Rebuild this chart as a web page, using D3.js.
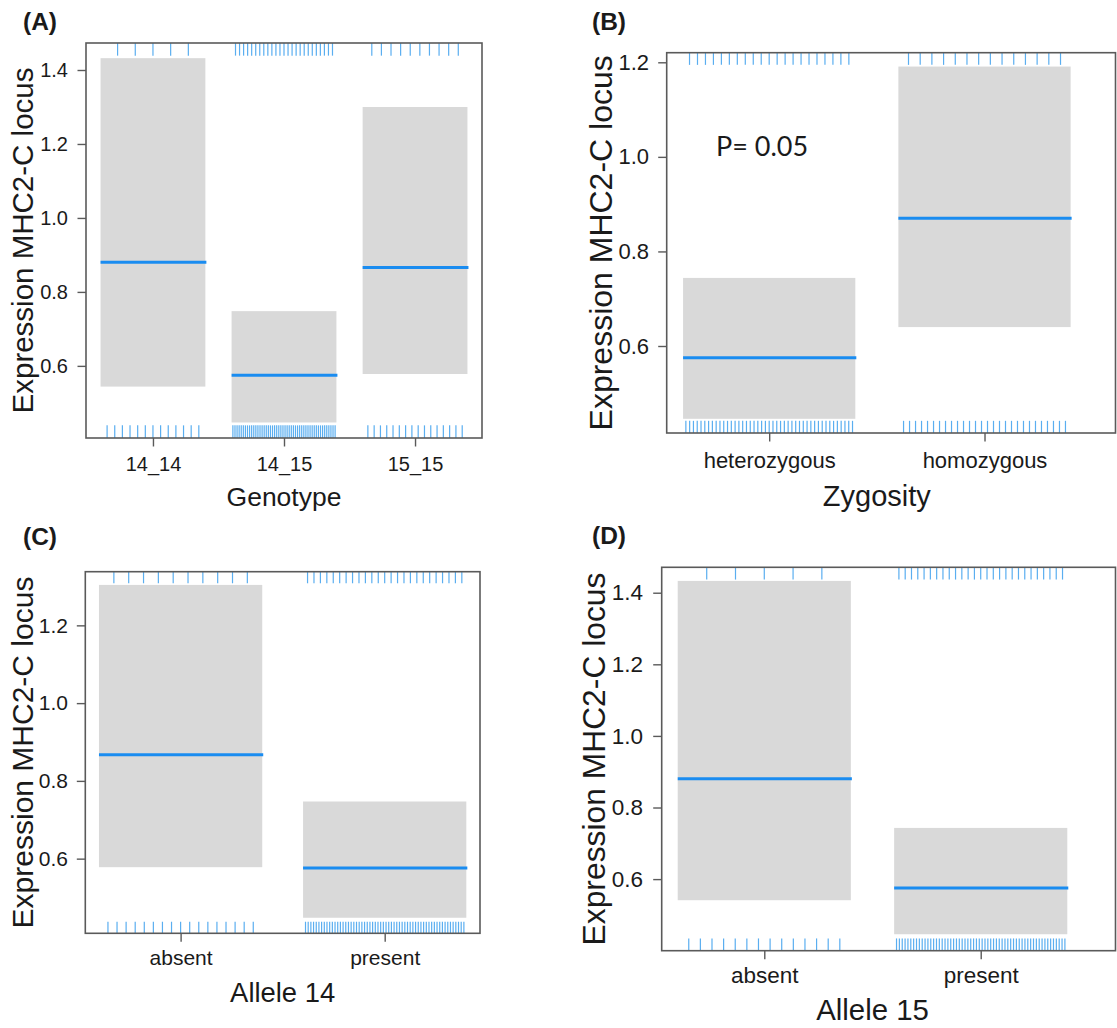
<!DOCTYPE html>
<html>
<head>
<meta charset="utf-8">
<script src="https://cdn.jsdelivr.net/npm/d3@7"></script>
<style>
  body { margin: 0; background: #fff; }
  svg text { font-family: "Liberation Sans", Arial, sans-serif; fill: #1a1a1a; }
</style>
</head>
<body>
<svg id="chart" width="1117" height="1028"></svg>
<script>
// effect estimates: fit, lower and upper bound of the band
var genotypeCats = ["14_14", "14_15", "15_15"];
var genotypeFit = [0.880, 0.575, 0.866];
var genotypeLower = [0.544, 0.447, 0.578];
var genotypeUpper = [1.432, 0.748, 1.300];
var genotypeTicks = [0.6, 0.8, 1.0, 1.2, 1.4];
var genotypeRugTop = [5, 25, 10];
var genotypeRugBottom = [13, 50, 16];

var zygosityCats = ["heterozygous", "homozygous"];
var zygosityFit = [0.575, 0.870];
var zygosityLower = [0.446, 0.640];
var zygosityUpper = [0.744, 1.191];
var zygosityTicks = [0.6, 0.8, 1.0, 1.2];
var zygosityRugTop = [21, 14];
var zygosityRugBottom = [45, 28];

var allele14Cats = ["absent", "present"];
var allele14Fit = [0.867, 0.576];
var allele14Lower = [0.578, 0.448];
var allele14Upper = [1.304, 0.747];
var allele14Ticks = [0.6, 0.8, 1.0, 1.2];
var allele14RugTop = [10, 25];
var allele14RugBottom = [17, 60];

var allele15Cats = ["absent", "present"];
var allele15Fit = [0.880, 0.575];
var allele15Lower = [0.541, 0.446];
var allele15Upper = [1.433, 0.743];
var allele15Ticks = [0.6, 0.8, 1.0, 1.2, 1.4];
var allele15RugTop = [5, 27];
var allele15RugBottom = [14, 60];

var yLabel = "Expression MHC2-C locus";

// how wide each rug group spreads, as a share of the category step
var genotypeRugTopSpread = [0.27, 0.37, 0.33];
var genotypeRugBottomSpread = [0.35, 0.39, 0.36];
var zygosityRugTopSpread = [0.37, 0.353];
var zygosityRugBottomSpread = [0.387, 0.376];
var allele14RugTopSpread = [0.327, 0.378];
var allele14RugBottomSpread = [0.356, 0.388];
var allele15RugTopSpread = [0.266, 0.378];
var allele15RugBottomSpread = [0.349, 0.389];

var panels = [
    {tag: "(A)", tagX: 23, tagY: 30, xTitle: "Genotype",
     cats: genotypeCats, fit: genotypeFit, lower: genotypeLower, upper: genotypeUpper,
     ticks: genotypeTicks, rugTop: genotypeRugTop, rugBottom: genotypeRugBottom,
     rugTopSpread: genotypeRugTopSpread, rugBottomSpread: genotypeRugBottomSpread,
     x0: 86, x1: 482, frameRight: 482, pad: 0.511, y0: 43, y1: 438, dom: [0.405, 1.473],
     tickFont: 20, xFont: 26.5, yFont: 29.5, yTitleX: 33, xLabY: 33, xTitleY: 506, yLabRight: 68},
    {tag: "(B)", tagX: 592, tagY: 30, xTitle: "Zygosity",
     cats: zygosityCats, fit: zygosityFit, lower: zygosityLower, upper: zygosityUpper,
     ticks: zygosityTicks, rugTop: zygosityRugTop, rugBottom: zygosityRugBottom,
     rugTopSpread: zygosityRugTopSpread, rugBottomSpread: zygosityRugBottomSpread,
     x0: 666.7, x1: 1087, frameRight: 1115.5, pad: 0.476, y0: 52.7, y1: 433, dom: [0.416, 1.2203],
     tickFont: 22, xFont: 29, yFont: 32, yTitleX: 612, xLabY: 35, xTitleY: 506, yLabRight: 649,
     note: "P= 0.05", noteX: 716, noteY: 156},
    {tag: "(C)", tagX: 23, tagY: 545, xTitle: "Allele 14",
     cats: allele14Cats, fit: allele14Fit, lower: allele14Lower, upper: allele14Upper,
     ticks: allele14Ticks, rugTop: allele14RugTop, rugBottom: allele14RugBottom,
     rugTopSpread: allele14RugTopSpread, rugBottomSpread: allele14RugBottomSpread,
     x0: 85.3, x1: 480, frameRight: 480, pad: 0.467, y0: 571.7, y1: 933.3, dom: [0.408, 1.338],
     tickFont: 21, xFont: 27.4, yFont: 30, yTitleX: 33, xLabY: 32, xTitleY: 1001.7, yLabRight: 68},
    {tag: "(D)", tagX: 592, tagY: 544, xTitle: "Allele 15",
     cats: allele15Cats, fit: allele15Fit, lower: allele15Lower, upper: allele15Upper,
     ticks: allele15Ticks, rugTop: allele15RugTop, rugBottom: allele15RugBottom,
     rugTopSpread: allele15RugTopSpread, rugBottomSpread: allele15RugBottomSpread,
     x0: 661.7, x1: 1083.3, frameRight: 1115.5, pad: 0.474, y0: 567.3, y1: 950.7, dom: [0.40, 1.471],
     tickFont: 22.5, xFont: 29.4, yFont: 31.8, yTitleX: 605, xLabY: 32.6, xTitleY: 1020, yLabRight: 643}
];

var svg = d3.select("#chart");
svg.append("rect").attr("width", 1117).attr("height", 1028).attr("fill", "#fff");

var BAND = "#d9d9d9", FIT = "#1a8cf0", RUG = "#5aaef0", FRAME = "#5a5a5a";

panels.forEach(function (p) {
    var g = svg.append("g");
    var x = d3.scalePoint().domain(p.cats).range([p.x0, p.x1]).padding(p.pad);
    var y = d3.scaleLinear().domain(p.dom).range([p.y1, p.y0]);
    var step = x.step();
    var halfW = 0.4 * step;
    var rugLen = 0.032 * (p.y1 - p.y0);

    // confidence bands
    g.selectAll(".band").data(p.cats).enter().append("rect")
        .attr("x", function (d) { return x(d) - halfW; })
        .attr("width", 2 * halfW)
        .attr("y", function (d, i) { return y(p.upper[i]); })
        .attr("height", function (d, i) { return y(p.lower[i]) - y(p.upper[i]); })
        .attr("fill", BAND);

    // fitted values
    g.selectAll(".fit").data(p.cats).enter().append("line")
        .attr("x1", function (d) { return x(d) - halfW; })
        .attr("x2", function (d) { return x(d) + halfW + 1; })
        .attr("y1", function (d, i) { return y(p.fit[i]); })
        .attr("y2", function (d, i) { return y(p.fit[i]); })
        .attr("stroke", FIT).attr("stroke-width", 3);

    // rugs, evenly spread inside each group
    function rug(counts, spreads, top) {
        p.cats.forEach(function (c, i) {
            var n = counts[i], s = spreads[i] * step;
            var xs = d3.range(n).map(function (k) { return x(c) - s + (n > 1 ? 2 * s * k / (n - 1) : s); });
            g.selectAll(null).data(xs).enter().append("line")
                .attr("x1", function (d) { return d; })
                .attr("x2", function (d) { return d; })
                .attr("y1", top ? p.y0 : p.y1 - rugLen)
                .attr("y2", top ? p.y0 + rugLen : p.y1)
                .attr("stroke", RUG).attr("stroke-width", 1.2);
        });
    }
    rug(p.rugTop, p.rugTopSpread, true);
    rug(p.rugBottom, p.rugBottomSpread, false);

    // frame
    g.append("rect")
        .attr("x", p.x0).attr("y", p.y0)
        .attr("width", p.frameRight - p.x0).attr("height", p.y1 - p.y0)
        .attr("fill", "none").attr("stroke", FRAME).attr("stroke-width", 1.6);

    // y axis
    var tickLen = 8.5;
    var ya = g.append("g").attr("transform", "translate(" + p.x0 + ",0)")
        .call(d3.axisLeft(y).tickValues(p.ticks).tickFormat(d3.format(".1f"))
            .tickSize(tickLen).tickSizeOuter(0).tickPadding(p.x0 - tickLen - p.yLabRight));
    ya.select(".domain").remove();
    ya.selectAll(".tick line").attr("stroke", FRAME).attr("stroke-width", 1.4);
    ya.selectAll(".tick text").attr("font-size", p.tickFont).attr("fill", "#1a1a1a")
        .attr("font-family", "Liberation Sans, Arial, sans-serif");

    // x axis
    var xa = g.append("g").attr("transform", "translate(0," + p.y1 + ")")
        .call(d3.axisBottom(x).tickSize(tickLen).tickSizeOuter(0));
    xa.select(".domain").remove();
    xa.selectAll(".tick line").attr("stroke", FRAME).attr("stroke-width", 1.4);
    xa.selectAll(".tick text").attr("font-size", p.tickFont).attr("fill", "#1a1a1a")
        .attr("font-family", "Liberation Sans, Arial, sans-serif")
        .attr("y", p.xLabY).attr("dy", null);

    // titles
    g.append("text").attr("x", (p.x0 + p.x1) / 2).attr("y", p.xTitleY)
        .attr("text-anchor", "middle").attr("font-size", p.xFont).text(p.xTitle);
    g.append("text")
        .attr("transform", "translate(" + p.yTitleX + "," + ((p.y0 + p.y1) / 2) + ") rotate(-90)")
        .attr("text-anchor", "middle").attr("font-size", p.yFont).text(yLabel);
    g.append("text").attr("x", p.tagX).attr("y", p.tagY)
        .attr("font-size", 24.5).attr("font-weight", "bold").text(p.tag);

    if (p.note) {
        g.append("text").attr("x", p.noteX).attr("y", p.noteY)
            .attr("font-size", 27).style("font-family", "Lato, 'Open Sans', sans-serif")
            .text(p.note);
    }
});
</script>
</body>
</html>
